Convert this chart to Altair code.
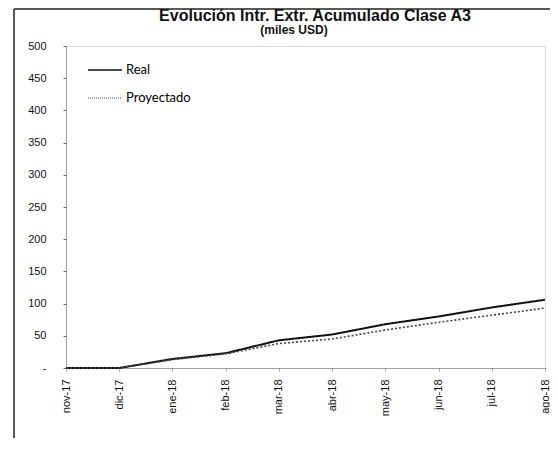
import altair as alt
import pandas as pd

months = ["nov-17", "dic-17", "ene-18", "feb-18", "mar-18", "abr-18",
          "may-18", "jun-18", "jul-18", "ago-18"]
real = [0, 0, 14, 23, 43, 52, 68, 80, 94, 106]
proyectado = [0, 0, 13, 22, 38, 45, 59, 71, 82, 93]
series = ["Real", "Proyectado"]
y_ticks = [0, 50, 100, 150, 200, 250, 300, 350, 400, 450, 500]
title_text = "Evolución Intr. Extr. Acumulado Clase A3"
subtitle_text = "(miles USD)"

rows = []
for m, r, p in zip(months, real, proyectado):
    rows.append({"mes": m, "serie": "Real", "valor": r})
    rows.append({"mes": m, "serie": "Proyectado", "valor": p})
df = pd.DataFrame(rows)

W, H = 479, 322

x_enc = alt.X("mes:O", sort=months, scale=alt.Scale(padding=0),
              axis=alt.Axis(title=None, labelAngle=270, labelFont="Liberation Sans",
                            labelFontSize=11, labelColor="#111", labelPadding=8,
                            domainColor="#666", domainDash=[1, 1], domainWidth=1,
                            ticks=True, tickSize=3, tickColor="#666", tickDash=[1, 1],
                            grid=False, labelBaseline="middle", labelAlign="right"))
y_enc = alt.Y("valor:Q", scale=alt.Scale(domain=[0, 500], nice=False),
              axis=alt.Axis(title=None, values=y_ticks,
                            labelExpr="datum.value == 0 ? '-' : datum.label",
                            labelFont="Liberation Sans", labelFontSize=11, labelColor="#111",
                            labelPadding=17, domainColor="#666", domainDash=[1, 1],
                            domainWidth=1, tickSize=3, tickColor="#666", grid=False))

lines = alt.Chart(df).mark_line(strokeCap="butt").encode(
    x=x_enc,
    y=y_enc,
    color=alt.Color("serie:N", scale=alt.Scale(domain=series, range=["#111111", "#444444"]),
                    legend=None),
    strokeDash=alt.StrokeDash("serie:N", scale=alt.Scale(domain=series, range=[[1, 0], [2, 2]]),
                              legend=None),
    strokeWidth=alt.StrokeWidth("serie:N", scale=alt.Scale(domain=series, range=[2, 1.6]),
                                legend=None),
    detail="serie:N",
)

leg = pd.DataFrame({"s": ["x"]})
leg_real_line = alt.Chart(leg).mark_rule(color="#111", strokeWidth=1.6).encode(
    x=alt.value(22), x2=alt.value(56), y=alt.value(24))
leg_real_txt = alt.Chart(leg).mark_text(align="left", baseline="middle", font="Lato",
                                        fontSize=13, color="#000").encode(
    x=alt.value(60), y=alt.value(24), text=alt.value("Real"))
leg_proy_line = alt.Chart(leg).mark_rule(color="#444", strokeWidth=1.2, strokeDash=[1, 1]).encode(
    x=alt.value(22), x2=alt.value(56), y=alt.value(52))
leg_proy_txt = alt.Chart(leg).mark_text(align="left", baseline="middle", font="Lato",
                                        fontSize=13, color="#000").encode(
    x=alt.value(60), y=alt.value(52), text=alt.value("Proyectado"))

title_mark = alt.Chart(leg).mark_text(align="center", baseline="middle",
                                      font="Liberation Sans", fontSize=16, fontWeight="bold",
                                      color="#111").encode(
    x=alt.value(249), y=alt.value(-30), text=alt.value(title_text))
subtitle_mark = alt.Chart(leg).mark_text(align="center", baseline="middle",
                                         font="Liberation Sans", fontSize=12, fontWeight="bold",
                                         color="#111").encode(
    x=alt.value(228), y=alt.value(-16), text=alt.value(subtitle_text))

frame_left = alt.Chart(leg).mark_rule(color="#222", strokeWidth=1.5).encode(
    x=alt.value(-52), y=alt.value(-37), y2=alt.value(H + 90))
frame_top = alt.Chart(leg).mark_rule(color="#222", strokeWidth=1.5).encode(
    x=alt.value(-52), x2=alt.value(W + 13), y=alt.value(-37))

chart = alt.layer(lines, leg_real_line, leg_real_txt, leg_proy_line, leg_proy_txt,
                  title_mark, subtitle_mark, frame_left, frame_top).properties(
    width=W, height=H,
    autosize=alt.AutoSizeParams(type="none"),
    padding={"left": 58, "top": 38, "right": 5, "bottom": 70},
).configure_view(stroke=None).configure(background="white")

chart.save("out.html", embed_options={"renderer": "svg", "actions": False})
